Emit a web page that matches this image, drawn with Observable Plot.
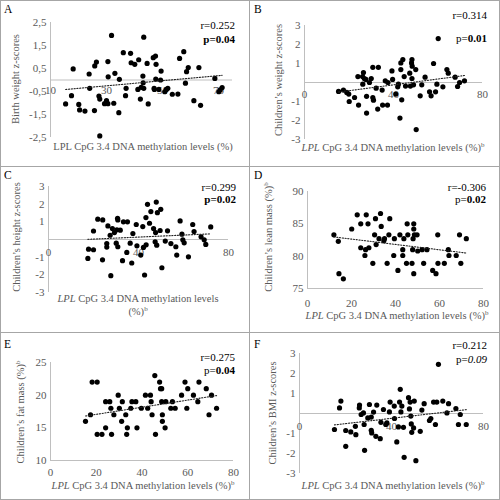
<!DOCTYPE html>
<html>
<head>
<meta charset="utf-8">
<script src="https://cdn.jsdelivr.net/npm/d3@7"></script>
<script src="https://cdn.jsdelivr.net/npm/@observablehq/plot@0.6"></script>
<style>
  html, body { margin: 0; padding: 0; background: #fff; }
  #root { position: relative; width: 500px; height: 500px; font-family: "Liberation Serif", "Times New Roman", serif; overflow: hidden; }
  .cell { position: absolute; overflow: hidden; }
  .cell svg { position: absolute; left: 0; top: 0; }
  .lbl { position: absolute; white-space: nowrap; font-size: 11px; line-height: 11px; }
  .letter { color: #000; font-size: 11.5px; }
  .ann { color: #000; text-align: right; }
  .title { color: #595959; font-size: 10.5px; }
  .sep { position: absolute; background: #a6a6a6; }
  sup { font-size: 7px; vertical-align: 4px; line-height: 0; }
</style>
</head>
<body>
<div id="root"></div>
<script>
// ---------------- DATA ----------------
// x = LPL CpG 3.4 DNA methylation level (%), y = outcome
const birthWeightZ = [[15.4,-1.04],[18.1,0.48],[17.5,-0.68],[20.1,-1.06],[20.4,-1.30],[22.3,-1.35],[23.8,0.26],[24.0,-0.36],[25.7,-1.33],[25.8,0.61],[26.4,0.78],[27.3,-0.70],[27.6,-0.83],[27.6,-2.43],[29.3,-1.03],[30.0,-0.90],[30.5,0.80],[30.6,0.14],[30.5,-1.03],[31.8,1.94],[32.6,-1.01],[33.0,0.29],[34.4,-1.42],[34.6,0.03],[36.0,1.19],[36.8,-0.68],[37.0,-0.36],[38.6,1.16],[38.8,0.75],[40.1,0.68],[41.2,-0.41],[41.5,0.88],[42.1,-0.83],[42.4,-0.32],[43.0,0.17],[43.1,-0.12],[43.3,1.86],[43.3,-0.36],[44.5,0.72],[44.9,-1.04],[46.7,0.97],[47.0,-0.36],[47.1,-0.41],[47.5,1.04],[47.6,0.04],[47.7,0.68],[48.7,-0.41],[49.3,0.0],[49.5,0.39],[50.8,-0.51],[51.4,-0.41],[51.9,-0.36],[53.5,-0.62],[55.5,-0.61],[56.1,0.94],[57.6,1.23],[58.2,-0.14],[58.6,0.36],[59.2,0.54],[61.2,-0.90],[63.0,0.54],[63.6,-1.10],[68.7,0.07],[70.1,-0.51],[70.6,-0.43],[71.3,-0.33]];

const weightZ = [[15.3,-0.47],[17.5,-0.40],[19.0,-0.52],[19.9,-0.61],[20.1,-1.0],[22.5,-0.79],[24.0,0.31],[24.3,-1.19],[26.1,0.31],[26.5,0.52],[26.9,0.21],[26.2,-0.09],[27.6,0.16],[27.9,-0.73],[27.9,-1.61],[29.2,0.0],[30.0,0.21],[30.7,0.80],[30.7,-0.79],[31.0,-0.93],[32.2,-0.30],[32.9,-1.40],[33.2,0.80],[34.9,-0.40],[35.1,-1.19],[36.3,0.09],[37.5,0.0],[37.3,-1.19],[39.3,0.61],[39.6,0.16],[41.0,-0.61],[41.9,-0.23],[42.2,-0.09],[42.9,-1.87],[43.3,0.68],[43.3,1.03],[43.7,-0.91],[44.2,1.21],[44.8,0.31],[45.4,-0.19],[47.3,0.49],[47.6,-0.19],[48.1,1.03],[48.3,1.21],[48.4,0.86],[48.3,0.21],[49.0,-0.12],[50.0,0.68],[50.2,-2.48],[52.0,-0.70],[52.7,-0.12],[54.2,0.28],[56.2,-0.49],[56.9,-0.70],[58.0,1.0],[58.9,-0.49],[59.5,-0.09],[60.1,2.31],[62.2,-0.23],[64.0,0.68],[64.6,0.49],[67.7,0.28],[68.8,-0.21],[69.7,0.0],[71.9,0.09]];

const heightZ = [[17.5,-1.07],[17.8,-0.55],[20.0,-0.58],[20.0,0.48],[21.9,1.15],[24.1,1.11],[24.0,-1.15],[25.9,-0.23],[25.9,-0.43],[26.4,0.77],[27.4,0.24],[27.7,-2.05],[28.4,0.62],[29.3,0.39],[30.1,-0.21],[30.4,0.55],[30.8,-0.41],[30.7,1.20],[30.8,1.11],[31.9,0.53],[32.9,-1.20],[33.3,1.0],[34.8,-0.73],[35.1,1.0],[36.3,-0.21],[37.0,-1.33],[37.5,0.34],[39.0,0.85],[39.3,-0.36],[41.0,-0.88],[41.9,0.73],[42.2,-0.45],[42.7,-2.01],[43.3,1.24],[43.4,-0.30],[44.0,1.99],[44.9,0.92],[45.5,1.58],[46.7,0.62],[47.4,-0.13],[47.6,0.39],[48.1,-0.32],[47.9,2.12],[48.4,1.52],[49.6,0.51],[49.9,1.71],[50.4,-1.60],[51.9,-0.09],[52.9,0.49],[54.4,-0.23],[56.6,-0.41],[57.0,-0.88],[58.5,1.05],[59.3,0.30],[59.7,-0.02],[60.3,-0.19],[62.2,-0.98],[64.1,0.85],[64.7,0.45],[67.8,0.15],[69.2,-0.02],[69.9,-0.28],[72.1,0.71]];

const leanMassPct = [[12.0,83.3],[14.0,82.3],[14.3,77.3],[16.3,76.5],[20.1,84.2],[22.6,86.4],[24.2,85.0],[24.2,81.3],[26.1,80.1],[26.4,81.0],[26.7,86.4],[27.5,85.0],[27.9,81.3],[29.7,78.9],[30.5,83.3],[30.9,85.8],[31.2,81.8],[32.5,82.7],[33.2,86.6],[33.5,84.6],[34.7,82.4],[35.0,82.7],[36.2,78.9],[37.0,83.3],[37.4,85.8],[39.2,80.1],[39.5,82.7],[41.1,77.8],[42.0,83.3],[43.3,80.1],[43.3,81.0],[43.8,82.7],[45.0,78.9],[45.3,85.0],[45.6,83.3],[47.5,78.9],[47.8,81.0],[48.3,77.3],[48.0,82.7],[48.3,85.0],[48.6,83.3],[48.3,84.2],[49.8,83.3],[50.1,80.8],[52.1,81.0],[52.8,78.9],[54.3,81.0],[56.9,77.8],[58.4,77.3],[59.2,83.3],[59.3,78.9],[62.2,78.9],[64.0,81.0],[64.3,80.1],[67.6,80.1],[69.1,83.3],[69.7,78.9],[72.2,82.7]];

const fatMassPct = [[15.3,16],[17.5,17],[18.2,22],[20.4,22],[20.4,14],[22.5,14],[24.1,15],[24.1,19],[25.9,19],[26.4,18],[26.7,14],[27.7,17],[29.6,20],[30.1,18],[31.1,16],[31.4,19],[32.9,17],[33.3,14],[33.6,15],[35.1,18],[35.6,19],[37.3,19],[37.8,15],[39.7,18],[41.5,20],[42.5,18],[43.7,20],[44.0,19],[44.4,17],[45.6,23],[45.9,14],[47.7,22],[48.1,21],[48.6,21],[48.6,19],[48.9,17],[48.9,16],[50.1,15],[50.4,19],[52.6,18],[53.3,19],[54.5,18],[57.3,20],[58.8,22],[59.6,18],[60.0,21],[62.5,20],[64.4,19],[64.9,22],[68.1,21],[69.3,17],[70.4,20],[72.6,18]];

const bmiZ = [[15.2,-0.80],[17.4,0.28],[18.0,0.62],[20.1,-0.85],[20.1,-1.64],[22.3,-0.92],[24.3,-0.64],[24.5,-1.06],[26.0,0.28],[26.1,0.42],[26.8,-0.05],[27.8,0.03],[28.1,-0.55],[28.3,-1.84],[29.7,-0.22],[30.4,0.45],[31.2,-0.84],[31.2,-0.18],[31.4,-0.97],[32.2,0.07],[33.2,-1.14],[33.6,0.42],[35.1,-1.26],[35.4,-0.44],[36.5,0.20],[37.5,-0.55],[38.0,-0.47],[39.4,0.57],[39.1,0.08],[41.2,0.37],[41.3,-0.25],[42.3,-1.42],[43.0,-0.67],[43.5,0.57],[43.8,1.21],[44.1,0.08],[44.5,0.37],[45.2,-0.69],[45.5,-2.19],[47.4,0.79],[47.8,0.23],[48.1,0.57],[48.4,-0.13],[48.6,-0.52],[48.8,-0.94],[49.6,-0.72],[49.9,0.62],[50.6,-2.36],[52.5,-0.89],[53.2,0.17],[54.2,0.49],[56.5,-0.35],[57.1,-0.25],[58.3,0.57],[59.1,-0.55],[59.7,0.57],[60.4,2.46],[62.3,0.62],[64.1,0.03],[64.8,0.49],[68.0,0.25],[69.1,-0.55],[69.9,-0.05],[72.5,-0.55]];

const ticksA_y = [2.5, 1.5, 0.5, -0.5, -1.5, -2.5];
const ticksA_x = [10, 30, 50, 70];
const ticksZ_y = [3, 2, 1, -1, -2, -3];
const ticksZ_x = [0, 40, 80];
const ticksLean_y = [75, 80, 85, 90];
const ticksFat_y = [10, 15, 20, 25];
const ticks20_x = [0, 20, 40, 60, 80];

const xTitle = '<i>LPL</i> CpG 3.4 DNA methylation levels (%)<sup>b</sup>';

const panels = [
  { letter: "A", letterTop: 4, data: birthWeightZ, cell: [0, 0, 250, 166], frame: [50, 232, 22, 137],
    xDomain: [10, 75], yDomain: [-2.5, 2.5], yTicks: ticksA_y, xTicks: ticksA_x, xAt: 0, xdy: 10,
    r: "r=0.252", p: "<b>p=0.04</b>", annRight: 235, rY: 25, pY: 39,
    yTitle: "Birth weight z-scores", yTitlePos: [15, 79],
    xTitle: "LPL CpG 3.4 DNA methylation levels (%)", xTitlePos: [143, 146] },
  { letter: "B", letterTop: 4, data: weightZ, cell: [250, 0, 250, 166], frame: [54, 232, 25, 139],
    xDomain: [0, 80], yDomain: [-3, 3], yTicks: ticksZ_y, xTicks: ticksZ_x, xAt: 0, xdy: 12,
    r: "r=0.314", p: "p=<b>0.01</b>", annRight: 237, rY: 15, pY: 38,
    yTitle: "Children\u2019s weight z-scores", yTitlePos: [28, 80],
    xTitle: xTitle, xTitlePos: [143, 147] },
  { letter: "C", letterTop: 4, data: heightZ, cell: [0, 166, 250, 166], frame: [48, 228, 20, 126],
    xDomain: [0, 80], yDomain: [-3, 3], yTicks: ticksZ_y, xTicks: ticksZ_x, xAt: 0, xdy: 13,
    r: "r=0.299", p: "<b>p=0.02</b>", annRight: 236, rY: 21, pY: 33,
    yTitle: "Children\u2019s height z-scores", yTitlePos: [16, 71],
    xTitle: '<i>LPL</i> CpG 3.4 DNA methylation levels<br>(%)<sup>b</sup>', xTitlePos: [138, 139] },
  { letter: "D", letterTop: 4, data: leanMassPct, cell: [250, 166, 250, 166], frame: [57, 233, 25, 122],
    xDomain: [0, 80], yDomain: [75, 90], yTicks: ticksLean_y, xTicks: ticks20_x, xAt: 75, xdy: 15,
    r: "r=-0.306", p: "p=<b>0.02</b>", annRight: 236, rY: 21, pY: 33,
    yTitle: "Children\u2019s lean mass (%)<sup>b</sup>", yTitlePos: [18, 71],
    xTitle: xTitle, xTitlePos: [147, 149] },
  { letter: "E", letterTop: 7, data: fatMassPct, cell: [0, 332, 250, 168], frame: [50, 233, 30, 128],
    xDomain: [0, 80], yDomain: [10, 25], yTicks: ticksFat_y, xTicks: ticks20_x, xAt: 10, xdy: 12,
    r: "r=0.275", p: "p=<b>0.04</b>", annRight: 235, rY: 25, pY: 38,
    yTitle: "Children\u2019s fat mass (%)<sup>b</sup>", yTitlePos: [20, 80],
    xTitle: xTitle, xTitlePos: [143, 153] },
  { letter: "F", letterTop: 7, data: bmiZ, cell: [250, 332, 250, 168], frame: [49, 233, 21, 141],
    xDomain: [0, 80], yDomain: [-3, 3], yTicks: ticksZ_y, xTicks: ticksZ_x, xAt: 0, xdy: 13,
    r: "r=0.212", p: "p=<i>0.09</i>", annRight: 237, rY: 13, pY: 27,
    yTitle: "Children\u2019s BMI z-scores", yTitlePos: [22, 81],
    xTitle: xTitle, xTitlePos: [143, 153] }
];

const root = document.getElementById("root");
const fmt = d => String(d).replace(".", ",");
const AXIS = "#bfbfbf", TXT = "#595959", FONT = '"Liberation Serif", "Times New Roman", serif';

for (const p of panels) {
  const [cl, ct, cw, ch] = p.cell;
  const [fx0, fx1, fy0, fy1] = p.frame;
  const cell = document.createElement("div");
  cell.className = "cell";
  Object.assign(cell.style, { left: cl + "px", top: ct + "px", width: cw + "px", height: ch + "px" });

  const chart = Plot.plot({
    width: cw, height: ch,
    marginLeft: fx0, marginRight: cw - fx1, marginTop: fy0, marginBottom: ch - fy1,
    style: { fontFamily: FONT, fontSize: "11px", background: "transparent", overflow: "visible" },
    x: { domain: p.xDomain, axis: null },
    y: { domain: p.yDomain, axis: null },
    marks: [
      Plot.ruleX([p.xDomain[0]], { stroke: AXIS, strokeWidth: 1 }),
      Plot.ruleY([p.xAt], { stroke: AXIS, strokeWidth: 1 }),
      Plot.axisY({ ticks: p.yTicks, tickSize: 0, tickPadding: 4, tickFormat: fmt, fill: TXT, fontSize: 11, label: null }),
      Plot.text(p.xTicks, { x: d => d, y: p.xAt, dy: p.xdy, text: d => String(d), fill: TXT, fontSize: 11 }),
      Plot.dot(p.data, { x: d => d[0], y: d => d[1], r: 2.6, fill: "#000", stroke: "none" }),
      Plot.linearRegressionY(p.data, { x: d => d[0], y: d => d[1], ci: 0, stroke: "#222", strokeWidth: 1.1, strokeDasharray: "1.2,1.6" })
    ]
  });
  cell.appendChild(chart);

  const add = (cls, html, css) => {
    const el = document.createElement("div");
    el.className = "lbl " + cls;
    el.innerHTML = html;
    Object.assign(el.style, css);
    cell.appendChild(el);
    return el;
  };
  add("letter", p.letter, { left: "4px", top: p.letterTop + "px" });
  add("ann", p.r, { right: (cw - p.annRight) + "px", top: (p.rY - 5) + "px" });
  add("ann", p.p, { right: (cw - p.annRight) + "px", top: (p.pY - 5) + "px" });
  add("title", p.yTitle, { left: p.yTitlePos[0] + "px", top: p.yTitlePos[1] + "px", transform: "translate(-50%,-50%) rotate(-90deg)" });
  add("title", p.xTitle, { left: p.xTitlePos[0] + "px", top: p.xTitlePos[1] + "px", transform: "translate(-50%,-50%)", textAlign: "center", lineHeight: "13px" });

  root.appendChild(cell);
}

// panel separators and outer border
const seps = [[0, 0, 500, 1], [0, 499, 500, 1], [0, 0, 1, 500], [499, 0, 1, 500], [249, 0, 1, 500], [0, 166, 500, 1], [0, 332, 500, 1]];
for (const [l, t, w, h] of seps) {
  const s = document.createElement("div");
  s.className = "sep";
  Object.assign(s.style, { left: l + "px", top: t + "px", width: w + "px", height: h + "px" });
  root.appendChild(s);
}
</script>
</body>
</html>
